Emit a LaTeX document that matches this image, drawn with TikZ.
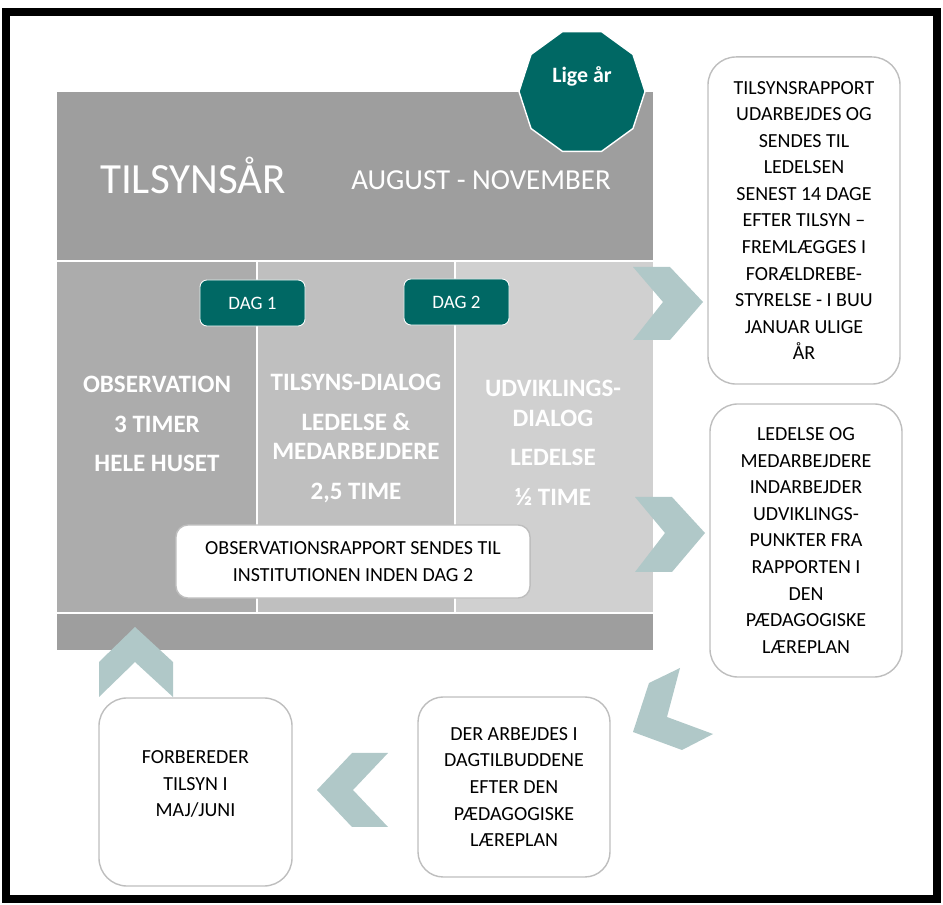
\documentclass[tikz,border=0pt]{standalone}
\usepackage{fontspec}
\setmainfont{Carlito}
\usetikzlibrary{shapes.geometric}

\definecolor{headgray}{RGB}{158,158,158}
\definecolor{colA}{RGB}{172,172,172}
\definecolor{colB}{RGB}{191,191,191}
\definecolor{colC}{RGB}{208,208,208}
\definecolor{tealgreen}{RGB}{0,104,100}
\definecolor{chevgray}{RGB}{176,200,200}
\definecolor{boxline}{RGB}{190,190,190}

\newcommand\infofont{\fontsize{14.2}{18.9}\selectfont}
\newcommand\colfont{\bfseries\fontsize{17.8}{21.3}\selectfont}

\tikzset{
  infobox/.style={draw=boxline, line width=1pt, fill=white, rounded corners=20pt,
    align=center, font=\infofont, minimum width=4.8cm},
  dagbox/.style={draw=white, line width=0.6pt, fill=tealgreen, text=white, rounded corners=5pt,
    font=\fontsize{13.5}{16}\selectfont, minimum width=2.625cm, minimum height=1.15cm},
  coltext/.style={text=white, align=center, font=\colfont},
  chevron/.style={fill=chevgray},
}

\begin{document}
\begin{tikzpicture}[x=0.025cm, y=-0.025cm]
			%%%%% START %%%%%
			\useasboundingbox (0,0) rectangle (943,905);
			
			\draw[line width=5pt] (6,12) rectangle (937,899);
			
			% main block
			\fill[headgray] (57,92) rectangle (653,260);
			\fill[colA] (57,262) rectangle (256,612);
			\fill[colB] (258,262) rectangle (454,612);
			\fill[colC] (456,262) rectangle (653,612);
			\fill[headgray] (57,614) rectangle (653,650);
			
			\node[text=white, font=\fontsize{30.6}{36}\selectfont] (tilsyn) at (193,175) {TILSYNSÅR};
			\node[text=white, font=\fontsize{20.6}{24}\selectfont] (periode) at (481,180) {AUGUST - NOVEMBER};
			
			\node[regular polygon, regular polygon sides=10, minimum size=3.15cm, inner sep=0pt,
			  fill=tealgreen, draw=white, line width=1pt] (lige) at (582,91.5) {};
			\node[text=white, font=\bfseries\fontsize{15.6}{18}\selectfont] (ligetext) at (582,76) {Lige år};
			
			\node[dagbox] (dag1) at (252.5,303) {DAG 1};
			\node[dagbox] (dag2) at (456.5,302) {DAG 2};
			
			\node[coltext] (obs) at (157,424) {OBSERVATION\\[6.8pt]3 TIMER\\[6.8pt]HELE HUSET};
			\node[coltext] (dialog) at (356,438.5) {TILSYNS-DIALOG\\[6.8pt]LEDELSE \&\\MEDARBEJDERE\\[6.8pt]2,5 TIME};
			\node[coltext] (udvikling) at (553,442.5) {UDVIKLINGS-\\DIALOG\\[6.8pt]LEDELSE\\[6.8pt]½ TIME};
			
			\node[infobox, rounded corners=8.5pt, minimum width=8.85cm, minimum height=1.825cm] (obsrapport) at (353,561.5)
			  {OBSERVATIONSRAPPORT SENDES TIL\\INSTITUTIONEN INDEN DAG 2};
			
			% boxes round the block
			\node[infobox, minimum height=8.175cm] (rapport) at (804,220.5)
			  {TILSYNSRAPPORT\\UDARBEJDES OG\\SENDES TIL\\LEDELSEN\\SENEST 14 DAGE\\EFTER TILSYN –\\FREMLÆGGES I\\FORÆLDREBE-\\STYRELSE - I BUU\\JANUAR ULIGE\\ÅR};
			\node[infobox, minimum height=6.825cm] (indarbejd) at (806,540.5)
			  {LEDELSE OG\\MEDARBEJDERE\\INDARBEJDER\\UDVIKLINGS-\\PUNKTER FRA\\RAPPORTEN I\\DEN\\PÆDAGOGISKE\\LÆREPLAN};
			\node[infobox, rounded corners=18pt, minimum height=4.5cm] (arbejde) at (514,787)
			  {DER ARBEJDES I\\DAGTILBUDDENE\\EFTER DEN\\PÆDAGOGISKE\\LÆREPLAN};
			\node[infobox, minimum width=4.825cm, minimum height=4.7cm] (forbered) at (195.5,792) {};
			\node[align=center, font=\infofont] (forbertext) at (195.5,784) {FORBEREDER\\TILSYN I\\MAJ/JUNI};
			
			% chevrons
			\fill[chevron] (633,267) -- (670,267) -- (703,302) -- (670,340) -- (633,340) -- (663,302) -- cycle;
			\fill[chevron] (635,497) -- (672,497) -- (705,533) -- (672,572) -- (635,572) -- (665,533) -- cycle;
			\fill[chevron] (680,668) -- (649,683) -- (633,732) -- (682,750) -- (713,734) -- (667,717) -- cycle;
			\fill[chevron] (317,790) -- (352,753) -- (388,753) -- (353,790) -- (388,827) -- (352,827) -- cycle;
			\fill[chevron] (135,627) -- (173,662) -- (173,697) -- (135,662) -- (99,697) -- (99,662) -- cycle;
			
			%%%%% END %%%%%
\end{tikzpicture}
\end{document}
